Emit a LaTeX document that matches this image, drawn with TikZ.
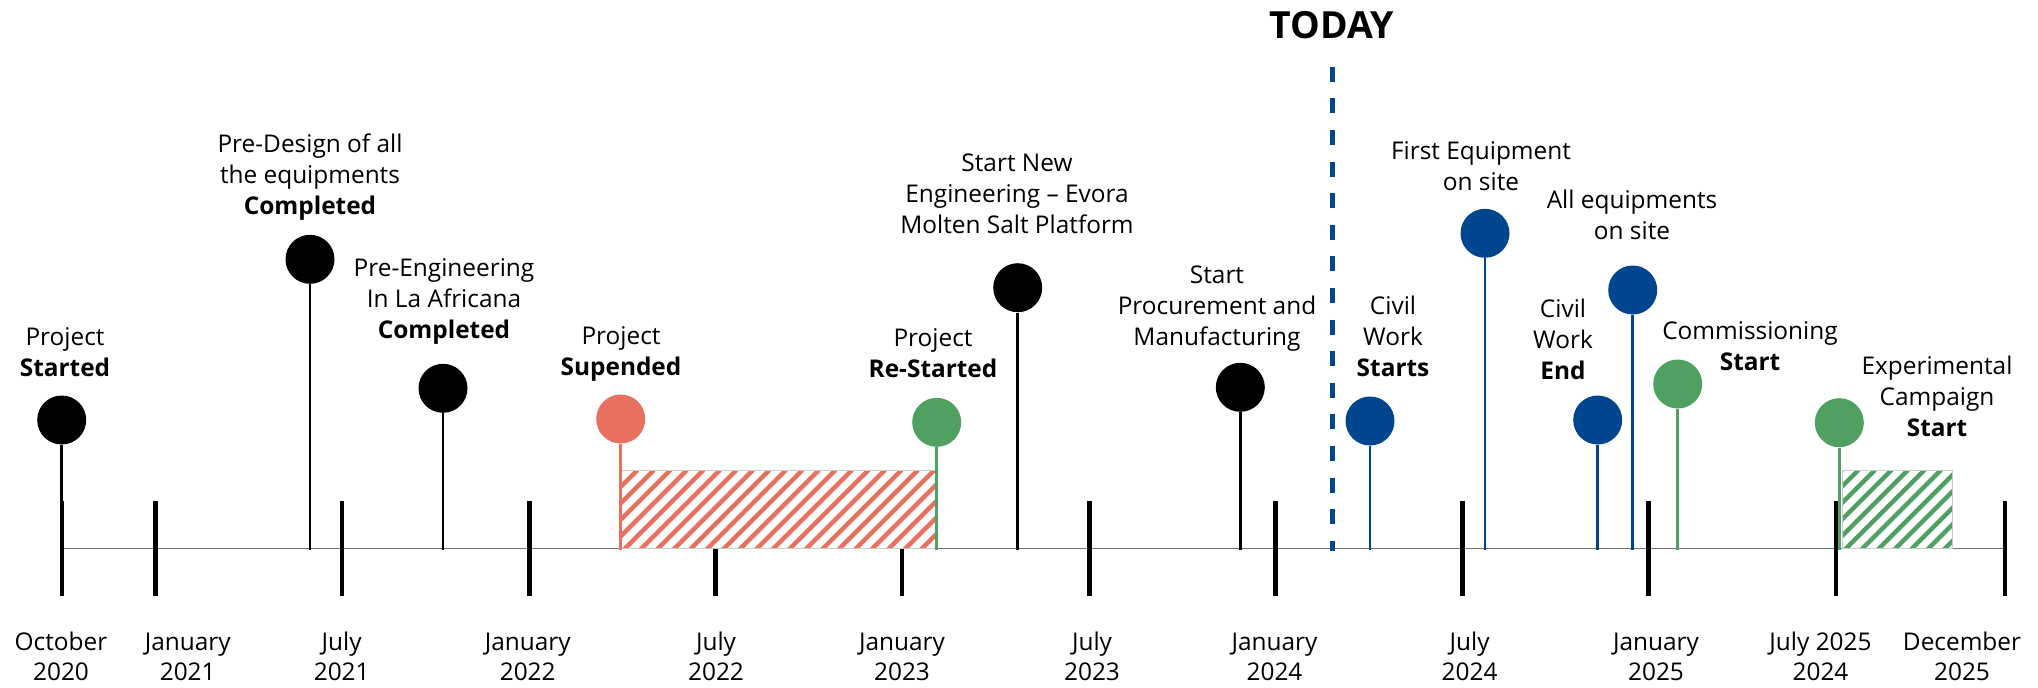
\documentclass[tikz,border=0pt]{standalone}
\usepackage{fontspec}
\setmainfont{Open Sans}
\definecolor{redev}{HTML}{E8705E}
\definecolor{greenev}{HTML}{4FA061}
\definecolor{blueev}{HTML}{00468E}
\tikzset{dot/.style={circle, fill=#1, minimum size=24.5pt, inner sep=0pt},
         stem/.style={draw=#1, line width=1.4pt},
         lbl/.style={align=center, anchor=base, inner sep=0pt, font=\fontsize{12.2}{15.5}\selectfont},
         yearlbl/.style={align=center, anchor=base, inner sep=0pt, font=\fontsize{12.2}{14.8}\selectfont},
         yeartick/.style={line width=2.4pt},
         axisline/.style={line width=0.75pt, black!55},
         nowline/.style={blueev, line width=2.5pt, dash pattern=on 7.5pt off 8.3pt}}

% white box with diagonal stripes between x=#1 and x=#2
\newcommand{\stripebox}[3]{%
  \begin{scope}
   \fill[white] (#1,470) rectangle (#2,548);
   \clip (#1,470) rectangle (#2,548);
   \foreach \s in {0,16.5,...,420}
     \draw[#3, line width=2.2pt] ({#1+\s-80},550) -- ++(80,-80);
  \end{scope}
  \draw[black!20, line width=0.4pt] (#1,470) rectangle (#2,548);}

\begin{document}
\begin{tikzpicture}[x=0.5pt,y=-0.5pt]
   \useasboundingbox (0,0) rectangle (2038,687);
   \coordinate (ax) at (0,550);
   \draw[axisline] (62,548.3) -- (2005,548.3);
   \foreach \x/\lx/\m/\yr [count=\i] in {62/61/October/2020, 155.7/187.7/January/2021,
       342/341.7/July/2021, 529.3/527.7/January/2022, 715.7/716/July/2022,
       902/902/January/2023, 1089.3/1092/July/2023, 1275.3/1274.5/January/2024,
       1462.7/1469.6/July/2024, 1648.3/1656/January/2025, 1836/1820.5/July 2025/2024,
       2005/1962/December/2025}{
     \draw[yeartick] (\x,501) -- (\x,596);
     \node[yearlbl] (yr\i) at (\lx,680) {\m\\\yr};
   }
   \stripebox{621}{935}{redev}
   \stripebox{1842}{1952}{greenev}

   \node[dot=black] (started) at (61.7,420) {};
   \draw[stem=black] (started) -- (started |- ax);
   \node[lbl] (startedlbl) at (65,376) {Project\\\textbf{Started}};

   \node[dot=black] (predesign) at (310,259.3) {};
   \draw[stem=black] (predesign) -- (predesign |- ax);
   \node[lbl] (predesignlbl) at (310,214.3) {Pre-Design of all\\the equipments\\\textbf{Completed}};

   \node[dot=black] (preeng) at (443,388.3) {};
   \draw[stem=black] (preeng) -- (preeng |- ax);
   \node[lbl] (preenglbl) at (444,338.3) {Pre-Engineering\\In La Africana\\\textbf{Completed}};

   \node[dot=redev] (halted) at (620.7,419) {};
   \draw[stem=redev] (halted) -- (halted |- ax);
   \node[lbl] (haltedlbl) at (621,375) {Project\\\textbf{Supended}};

   \node[dot=greenev] (restart) at (936.7,422.3) {};
   \draw[stem=greenev] (restart) -- (restart |- ax);
   \node[lbl] (restartlbl) at (933,377.3) {Project\\\textbf{Re-Started}};

   \node[dot=black] (neweng) at (1017.7,287.7) {};
   \draw[stem=black] (neweng) -- (neweng |- ax);
   \node[lbl] (newenglbl) at (1017,233.3) {Start New\\Engineering -- Evora\\Molten Salt Platform};

   \node[dot=black] (procure) at (1240.3,387.3) {};
   \draw[stem=black] (procure) -- (procure |- ax);
   \node[lbl] (procurelbl) at (1217,345) {Start\\Procurement and\\Manufacturing};

   \node[font=\fontsize{18.7}{20}\selectfont\bfseries, anchor=base, inner sep=0pt] (today) at (1331.7,38) {TODAY};
   \coordinate (nowtop) at (1332.7,66.7);
   \coordinate (nowbot) at (1332.7,551);
   \draw[nowline] (nowtop) -- (nowbot);

   \node[dot=blueev] (civila) at (1370,421) {};
   \draw[stem=blueev] (civila) -- (civila |- ax);
   \node[lbl] (civilalbl) at (1393,376.7) {Civil\\Work\\\textbf{Starts}};

   \node[dot=blueev] (firsteq) at (1485,233.3) {};
   \draw[stem=blueev] (firsteq) -- (firsteq |- ax);
   \node[lbl] (firsteqlbl) at (1481,190) {First Equipment\\on site};

   \node[dot=blueev] (civilb) at (1597.7,420) {};
   \draw[stem=blueev] (civilb) -- (civilb |- ax);
   \node[lbl] (civilblbl) at (1563,379) {Civil\\Work\\\textbf{End}};

   \node[dot=blueev] (alleq) at (1632.7,290) {};
   \draw[stem=blueev] (alleq) -- (alleq |- ax);
   \node[lbl] (alleqlbl) at (1632,239.3) {All equipments\\on site};

   \node[dot=greenev] (commis) at (1677.7,384) {};
   \draw[stem=greenev] (commis) -- (commis |- ax);
   \node[lbl] (commislbl) at (1750,370.7) {Commissioning\\\textbf{Start}};

   \node[dot=greenev] (campaign) at (1839.3,422.7) {};
   \draw[stem=greenev] (campaign) -- (campaign |- ax);
   \node[lbl] (campaignlbl) at (1937,436) {Experimental\\Campaign\\\textbf{Start}};
\end{tikzpicture}
\end{document}
